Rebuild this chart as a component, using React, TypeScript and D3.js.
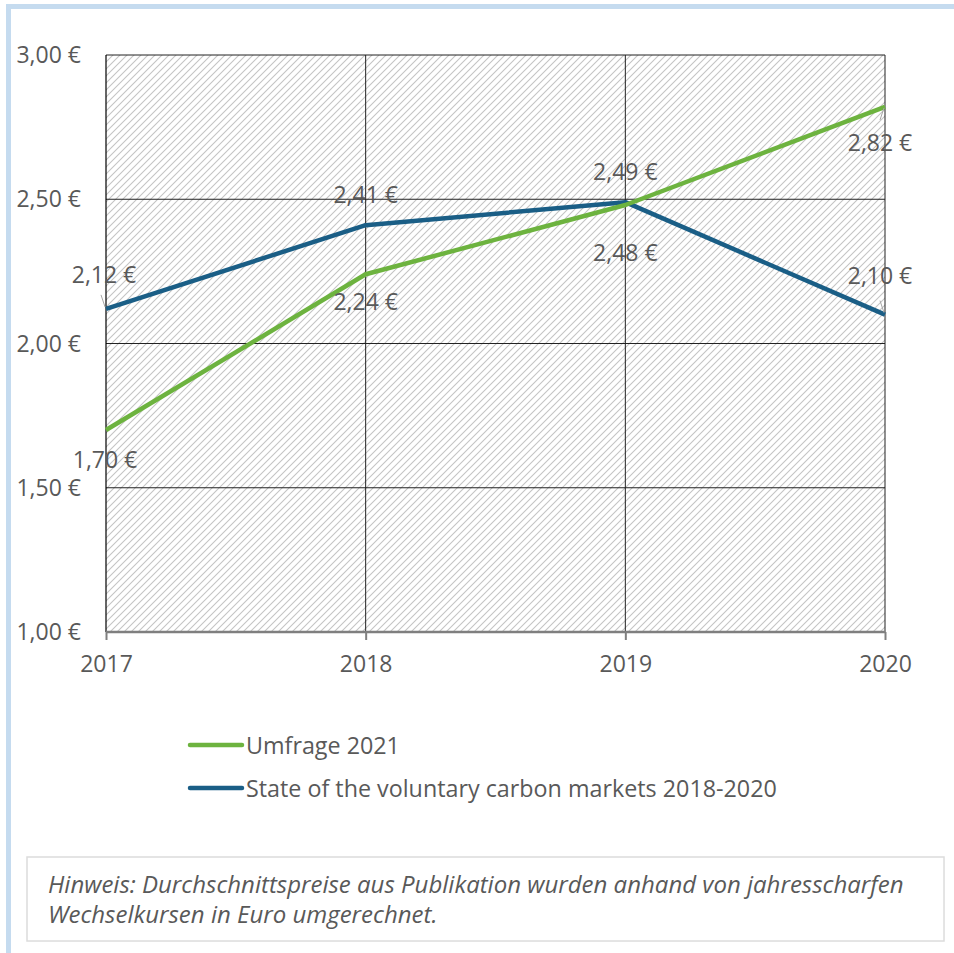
import React, { useEffect, useRef } from "react";
import * as d3 from "d3";

// chart data
const years = ["2017", "2018", "2019", "2020"];
const umfrage = [1.7, 2.24, 2.48, 2.82];
const stateOfMarkets = [2.12, 2.41, 2.49, 2.1];
const yTicks = [1.0, 1.5, 2.0, 2.5, 3.0];
const seriesNames = ["Umfrage 2021", "State of the voluntary carbon markets 2018-2020"];
const noteLines = [
  "Hinweis: Durchschnittspreise aus Publikation wurden anhand von jahresscharfen",
  "Wechselkursen in Euro umgerechnet.",
];

// label placement (dx, dy from point to text baseline, leader line?)
const umfrageLabelPos = [
  { dx: -1, dy: 38, leader: false },
  { dx: 0, dy: 36, leader: false },
  { dx: 0, dy: 56, leader: false },
  { dx: -5, dy: 44, leader: true },
];
const marketsLabelPos = [
  { dx: -2, dy: -26, leader: true },
  { dx: 0, dy: -22, leader: false },
  { dx: 0, dy: -22, leader: false },
  { dx: -5, dy: -31, leader: true },
];

const GREEN = "#6db33f";
const BLUE = "#1a5e86";
const TEXT = "#595959";
const FONT = "'Open Sans', sans-serif";

const fmt = (v: number) => d3.format(".2f")(v).replace(".", ",") + " €";

export default function App() {
  const ref = useRef<SVGSVGElement>(null);

  useEffect(() => {
    document.body.style.margin = "0";
    const width = 954, height = 953;
    const margin = { top: 55, right: 69, bottom: 321, left: 106 };

    const svg = d3.select(ref.current);
    svg.selectAll("*").remove();
    svg.attr("width", width).attr("height", height);

    const x = d3.scalePoint().domain(years).range([margin.left, width - margin.right]);
    const y = d3.scaleLinear().domain([1, 3]).range([height - margin.bottom, margin.top]);

    // outer frame
    svg.append("rect").attr("x", 0).attr("y", 0).attr("width", width).attr("height", height).attr("fill", "#fff");
    svg.append("rect").attr("x", 6).attr("y", 4).attr("width", width + 20).attr("height", 5).attr("fill", "#c5dbef");
    svg.append("rect").attr("x", 6).attr("y", 4).attr("width", 5).attr("height", height).attr("fill", "#c5dbef");

    // hatch pattern
    const defs = svg.append("defs");
    const pat = defs.append("pattern")
      .attr("id", "hatch")
      .attr("patternUnits", "userSpaceOnUse")
      .attr("width", 7).attr("height", 7);
    pat.append("path")
      .attr("d", "M0,7 L7,0 M-1,1 L1,-1 M6,8 L8,6")
      .attr("stroke", "#c4c4c4").attr("stroke-width", 1.1);

    const x0 = x(years[0])!, x1 = x(years[years.length - 1])!;
    svg.append("rect")
      .attr("x", x0).attr("y", y(3))
      .attr("width", x1 - x0).attr("height", y(1) - y(3))
      .attr("fill", "url(#hatch)");

    // grid (incl. top border)
    svg.append("g").selectAll("line").data(yTicks.filter(t => t > 1)).join("line")
      .attr("x1", x0).attr("x2", x1)
      .attr("y1", d => y(d)).attr("y2", d => y(d))
      .attr("stroke", "#222").attr("stroke-width", 1);
    svg.append("g").selectAll("line").data(years.slice(1)).join("line")
      .attr("x1", d => x(d)!).attr("x2", d => x(d)!)
      .attr("y1", y(3)).attr("y2", y(1))
      .attr("stroke", "#222").attr("stroke-width", 1);

    // y axis line
    svg.append("line").attr("x1", x0).attr("x2", x0).attr("y1", y(3)).attr("y2", y(1))
      .attr("stroke", "#000").attr("stroke-width", 1.2);

    // x axis
    const xAxis = svg.append("g")
      .attr("transform", `translate(0,${y(1)})`)
      .call(d3.axisBottom(x).tickSize(8).tickPadding(16));
    xAxis.select(".domain").attr("stroke", "#7f7f7f").attr("stroke-width", 2.5)
      .attr("d", `M${x0},0H${x1}`);
    xAxis.selectAll(".tick line").attr("stroke", "#7f7f7f").attr("stroke-width", 2);
    xAxis.selectAll(".tick text")
      .attr("font-family", FONT).attr("font-size", 23).attr("fill", TEXT).attr("dy", "0.71em");

    // y tick labels
    svg.append("g").selectAll("text").data(yTicks).join("text")
      .attr("x", 81).attr("y", d => y(d) + 8)
      .attr("text-anchor", "end")
      .attr("font-family", FONT).attr("font-size", 23).attr("fill", TEXT)
      .text(d => fmt(d));

    // lines
    const line = d3.line<number>().x((_, i) => x(years[i])!).y(d => y(d));
    const series = [
      { values: stateOfMarkets, color: BLUE, pos: marketsLabelPos },
      { values: umfrage, color: GREEN, pos: umfrageLabelPos },
    ];
    series.forEach(s => {
      svg.append("path").datum(s.values)
        .attr("d", line)
        .attr("fill", "none")
        .attr("stroke", s.color)
        .attr("stroke-width", 4.5)
        .attr("stroke-linejoin", "round");
    });

    // data labels
    series.forEach(s => {
      s.values.forEach((v, i) => {
        const px = x(years[i])!, py = y(v);
        const p = s.pos[i];
        if (p.leader) {
          const below = p.dy > 0;
          svg.append("line")
            .attr("x1", px - 5).attr("y1", below ? py + 13 : py - 14)
            .attr("x2", px - 1).attr("y2", below ? py + 1 : py - 2)
            .attr("stroke", "#a6a6a6").attr("stroke-width", 1);
        }
        svg.append("text")
          .attr("x", px + p.dx).attr("y", py + p.dy)
          .attr("text-anchor", "middle")
          .attr("font-family", FONT).attr("font-size", 23).attr("fill", TEXT)
          .text(fmt(v));
      });
    });

    // legend
    const legend = svg.append("g");
    [GREEN, BLUE].forEach((c, i) => {
      const ly = 745 + i * 43;
      legend.append("line").attr("x1", 190).attr("x2", 242).attr("y1", ly).attr("y2", ly)
        .attr("stroke", c).attr("stroke-width", 4.5).attr("stroke-linecap", "round");
      legend.append("text").attr("x", 246).attr("y", ly + 9)
        .attr("font-family", FONT).attr("font-size", 23.3).attr("fill", TEXT)
        .text(seriesNames[i]);
    });

    // note box
    svg.append("rect").attr("x", 27).attr("y", 857).attr("width", 917).attr("height", 84)
      .attr("fill", "#fff").attr("stroke", "#dcdcdc").attr("stroke-width", 1.5);
    svg.append("g").selectAll("text").data(noteLines).join("text")
      .attr("x", 48).attr("y", (_, i) => 893 + i * 30)
      .attr("font-family", FONT).attr("font-style", "italic").attr("font-size", 24)
      .attr("fill", TEXT)
      .text(d => d);
  }, []);

  return <svg ref={ref} style={{ display: "block" }} />;
}
